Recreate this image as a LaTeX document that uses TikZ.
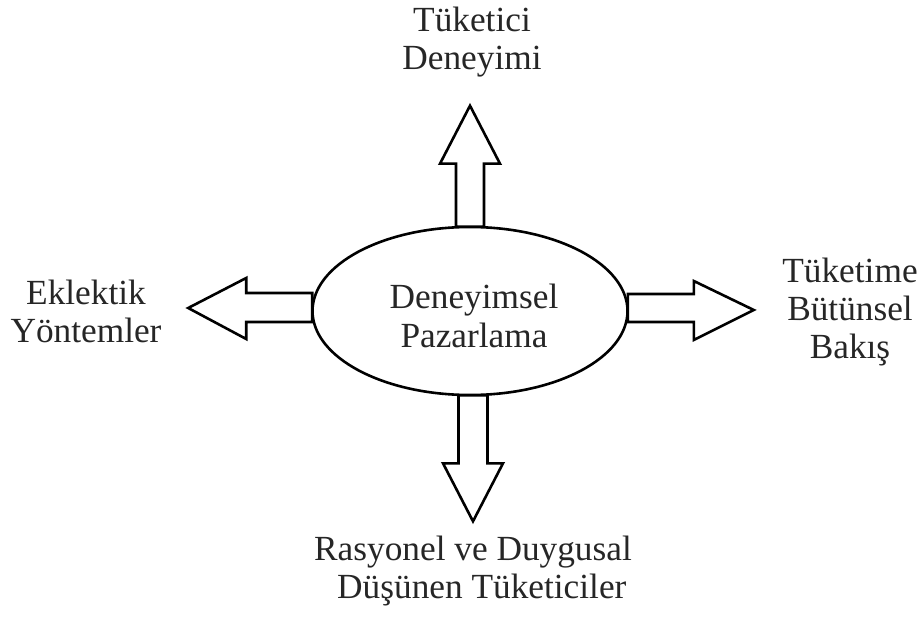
\documentclass[tikz,border=0pt]{standalone}
\usepackage{fontspec}
\setmainfont{Liberation Serif}
\usetikzlibrary{shapes.geometric}
\begin{document}
\begin{tikzpicture}[x=1pt,y=-1pt,
  lbl/.style={align=center, inner sep=0pt, anchor=base, text=black!85,
    font=\fontsize{35.3}{38}\selectfont},
  blockarrow/.style={draw=black, fill=white, line width=2.6pt, line join=miter},
  mainell/.style={ellipse, draw=black, line width=2.6pt, minimum width=315pt,
    minimum height=168pt, inner sep=0pt}]
\useasboundingbox (0,0) rectangle (923,617);
\fill[white] (0,0) rectangle (923,617);
\node[mainell] (c) at (470,311) {};
\node[lbl] (ctext) at (474,347) {Deneyimsel\\Pazarlama};
% up arrow
\draw[blockarrow, shift={(c.north)}] (-14,1) -- (-14,-62) -- (-30,-62) -- (0,-120)
  -- (30,-62) -- (14,-62) -- (14,1) -- cycle;
% down arrow
\draw[blockarrow, shift={(c.south)}] (-11.5,-1) -- (-11.5,67) -- (-27,67) -- (3,125)
  -- (33,67) -- (17.5,67) -- (17.5,-1) -- cycle;
% left arrow
\draw[blockarrow, shift={(c.west)}] (1,-18) -- (-65,-18) -- (-65,-33) -- (-123,-3)
  -- (-65,28) -- (-65,11) -- (1,11) -- cycle;
% right arrow
\draw[blockarrow, shift={(c.east)}] (-1,-17) -- (65,-17) -- (65,-30) -- (125,-1)
  -- (65,29) -- (65,11) -- (-1,11) -- cycle;
\node[lbl] (top) at (472,70) {Tüketici\\Deneyimi};
\node[lbl] (left) at (86,342) {Eklektik\\Yöntemler};
\node[lbl] (right) at (850,358) {Tüketime\\Bütünsel\\Bakış};
\node[lbl] (bottom) at (473,598) {Rasyonel ve Duygusal\\\hspace*{0.5em}Düşünen Tüketiciler};
\end{tikzpicture}
\end{document}
